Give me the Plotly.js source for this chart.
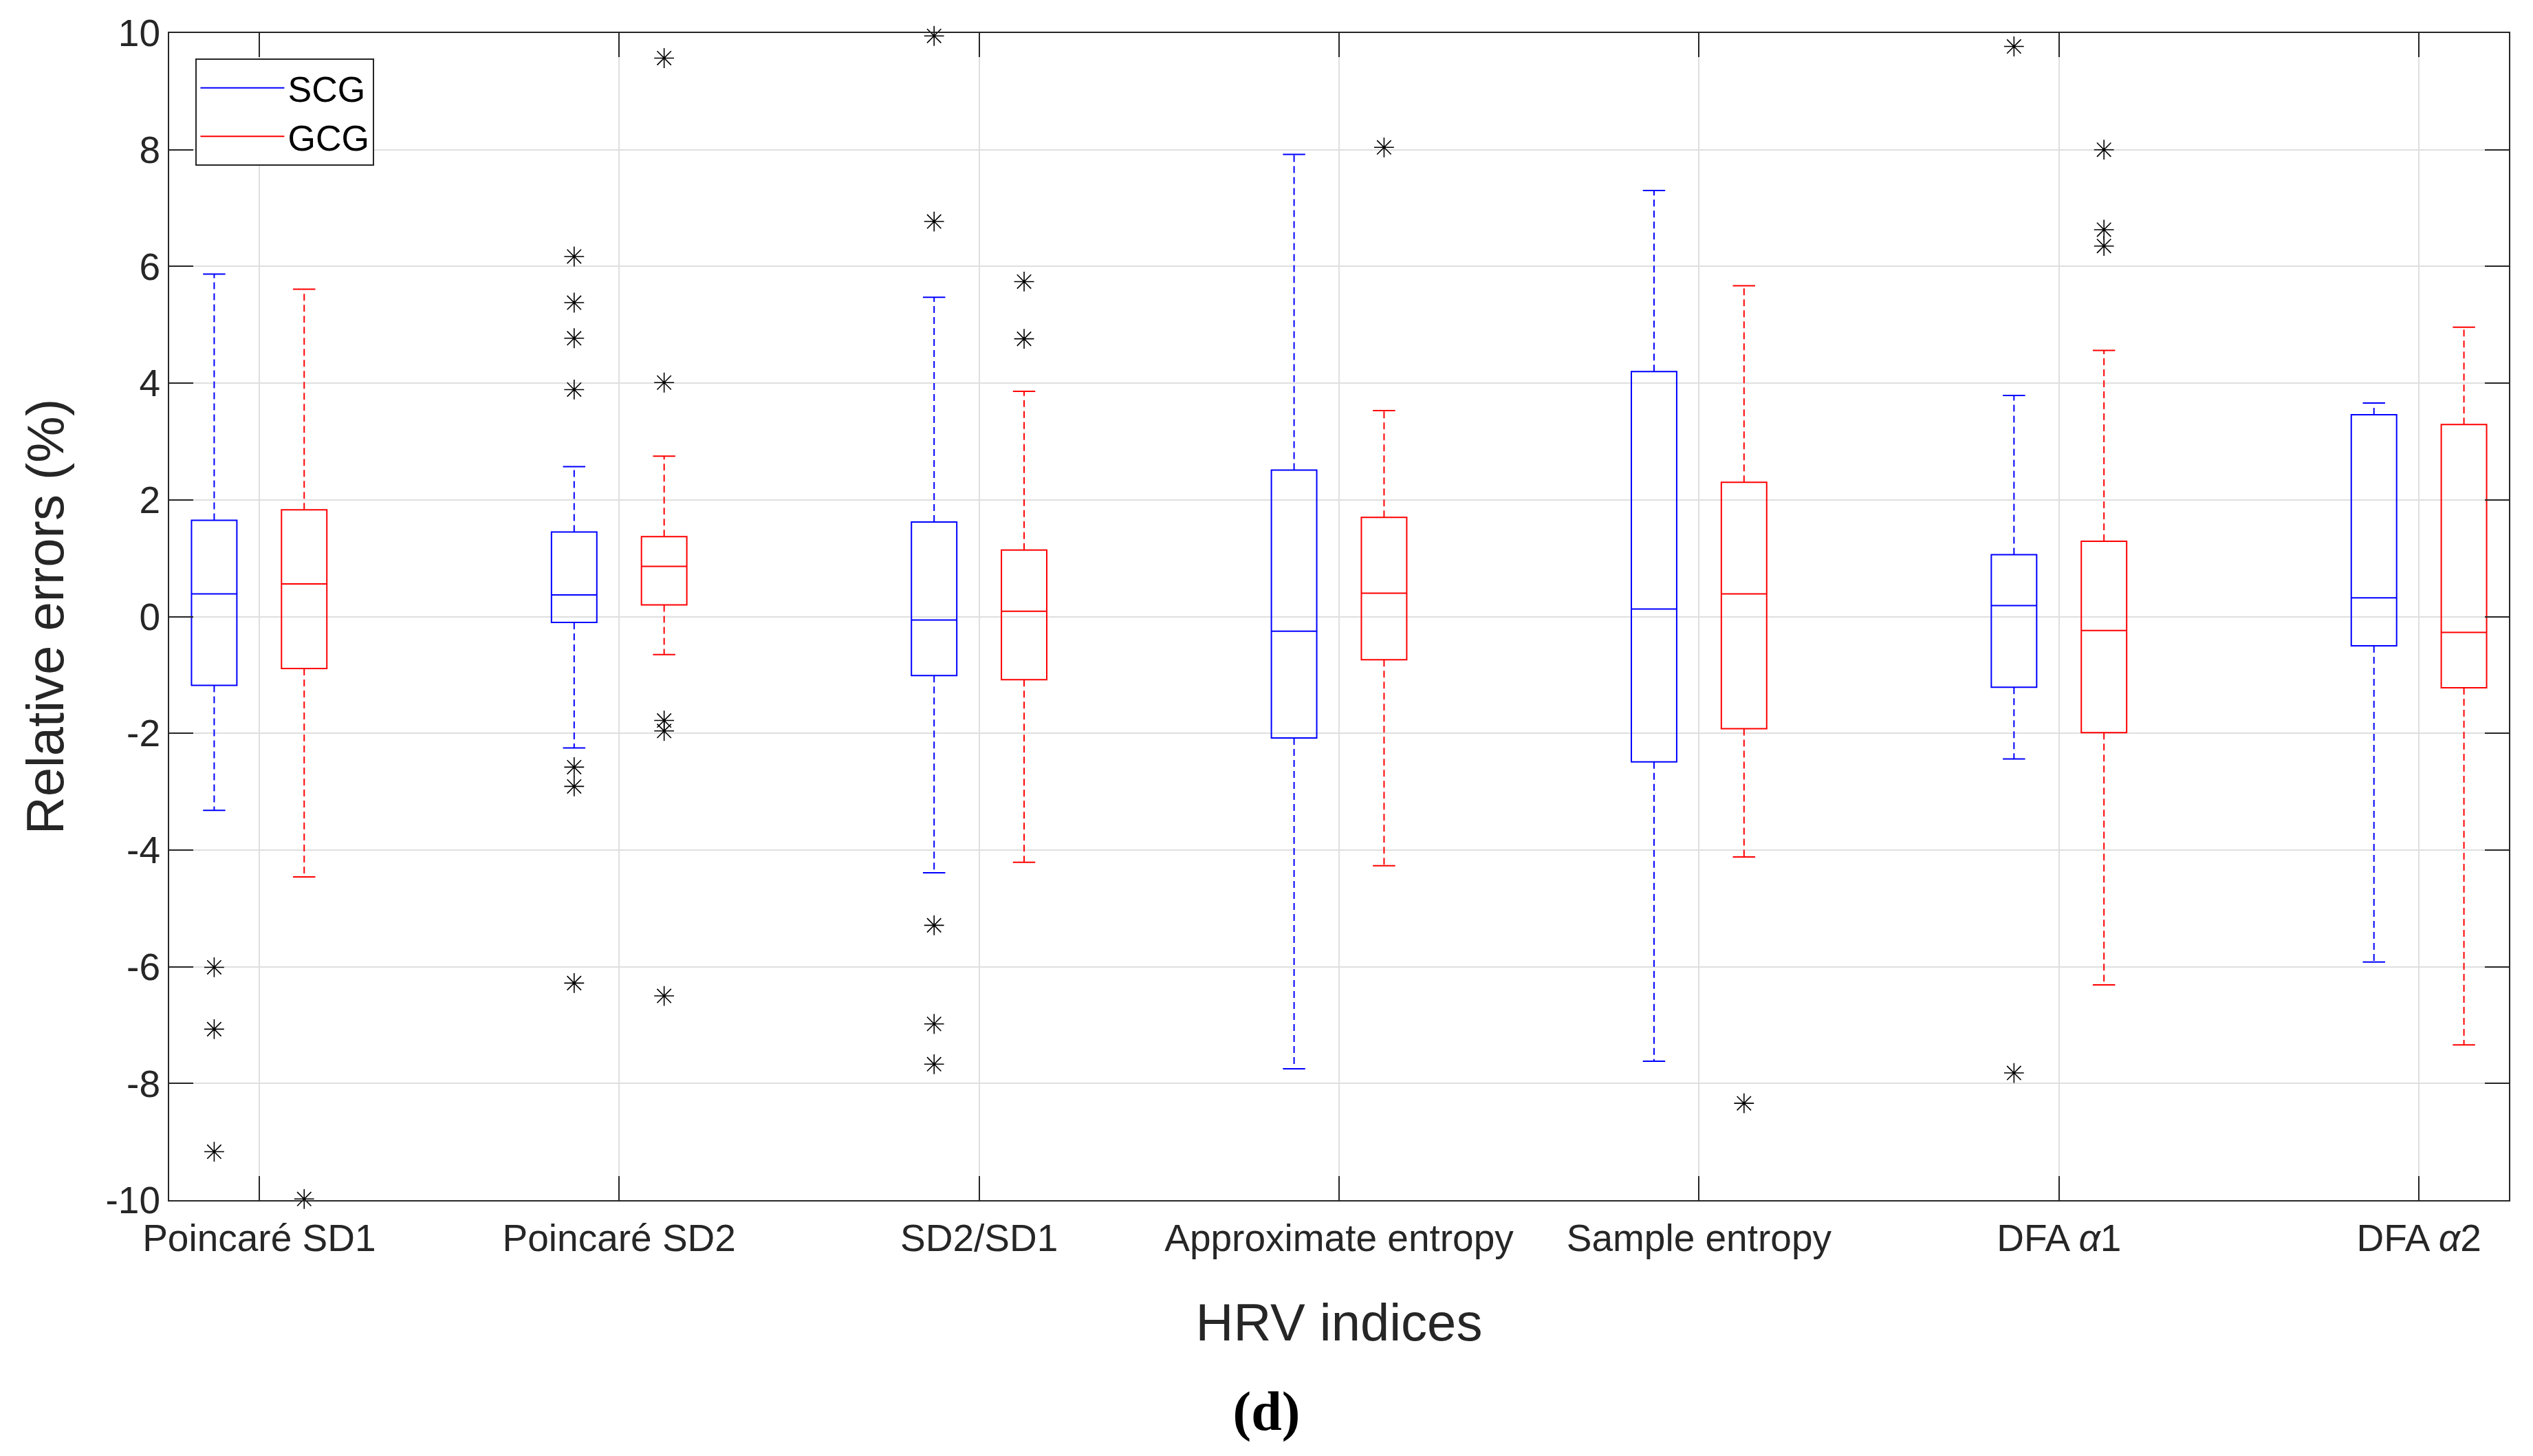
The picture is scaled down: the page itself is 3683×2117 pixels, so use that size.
<!DOCTYPE html>
<html>
<head>
<meta charset="utf-8">
<script src="https://cdn.plot.ly/plotly-3.0.1.min.js"></script>
<style>
  html, body { margin: 0; padding: 0; background: #ffffff; }
  #chart { width: 3683px; height: 2117px; }
</style>
</head>
<body>
<div id="chart"></div>
<script>
// ---------- data ----------
const categories = ['Poincaré SD1', 'Poincaré SD2', 'SD2/SD1', 'Approximate entropy',
                    'Sample entropy', 'DFA <i>α</i>1', 'DFA <i>α</i>2'];
const seriesNames = ['SCG', 'GCG'];

const scgUpper  = [5.87, 2.57, 5.47, 7.92, 7.30, 3.79, 3.66];
const scgQ3     = [1.65, 1.45, 1.62, 2.51, 4.20, 1.06, 3.46];
const scgMedian = [0.39, 0.37, -0.06, -0.25, 0.13, 0.19, 0.32];
const scgQ1     = [-1.18, -0.10, -1.01, -2.08, -2.49, -1.21, -0.50];
const scgLower  = [-3.32, -2.25, -4.39, -7.75, -7.62, -2.44, -5.92];
const scgOutliers = [[-6.01, -7.07, -9.17], [6.17, 5.38, 4.77, 3.89, -2.58, -2.91, -6.28],
                     [9.95, 6.77, -5.29, -6.98, -7.67], [], [], [9.77, -7.82], []];

const gcgUpper  = [5.61, 2.75, 3.86, 3.53, 5.67, 4.56, 4.96];
const gcgQ3     = [1.83, 1.37, 1.14, 1.70, 2.30, 1.29, 3.29];
const gcgMedian = [0.56, 0.86, 0.09, 0.40, 0.39, -0.24, -0.27];
const gcgQ1     = [-0.89, 0.20, -1.08, -0.74, -1.92, -1.99, -1.22];
const gcgLower  = [-4.46, -0.65, -4.21, -4.27, -4.12, -6.31, -7.34];
const gcgOutliers = [[-9.98], [9.57, 4.01, -1.78, -1.96, -6.50], [5.74, 4.76], [8.04],
                     [-8.34], [8.00, 6.63, 6.35], []];

const yTickVals = [-10, -8, -6, -4, -2, 0, 2, 4, 6, 8, 10];
const yTickText = ['-10', '-8', '-6', '-4', '-2', '0', '2', '4', '6', '8', '10'];

// ---------- styling ----------
const seriesColors = ['#0000ff', '#ff0000'];
const groupOffset = [-0.125, 0.125];
const boxWidth = 0.126;
const capHalf = 0.031;
const axisColor = '#262626';
const fontFamily = '"Liberation Sans", Arial, Helvetica, sans-serif';

const series = [
  { upper: scgUpper, q3: scgQ3, median: scgMedian, q1: scgQ1, lower: scgLower, out: scgOutliers },
  { upper: gcgUpper, q3: gcgQ3, median: gcgMedian, q1: gcgQ1, lower: gcgLower, out: gcgOutliers }
];

const idx = categories.map((_, i) => i);
const traces = [];
const legendTraces = [];

series.forEach((s, k) => {
  const pos = idx.map(i => i + groupOffset[k]);
  const color = seriesColors[k];

  // box (q1 - median - q3), whiskers drawn separately as dashed lines
  traces.push({
    type: 'box',
    x: pos,
    q1: s.q1, median: s.median, q3: s.q3,
    lowerfence: s.q1, upperfence: s.q3,
    width: boxWidth,
    whiskerwidth: 0,
    boxpoints: false,
    line: { color: color, width: 2 },
    fillcolor: 'rgba(0,0,0,0)',
    hoverinfo: 'skip',
    showlegend: false
  });

  // dashed whiskers
  const wx = [], wy = [];
  pos.forEach((p, i) => {
    wx.push(p, p, null, p, p, null);
    wy.push(s.q3[i], s.upper[i], null, s.q1[i], s.lower[i], null);
  });
  traces.push({
    type: 'scatter', mode: 'lines', x: wx, y: wy,
    line: { color: color, width: 2, dash: '10px,6px' },
    hoverinfo: 'skip', showlegend: false
  });

  // whisker caps (solid) - also used as legend entry
  const cx = [], cy = [];
  pos.forEach((p, i) => {
    cx.push(p - capHalf, p + capHalf, null, p - capHalf, p + capHalf, null);
    cy.push(s.upper[i], s.upper[i], null, s.lower[i], s.lower[i], null);
  });
  legendTraces.push({
    type: 'scatter', mode: 'lines', x: cx, y: cy,
    name: seriesNames[k],
    line: { color: color, width: 2 },
    hoverinfo: 'skip', showlegend: true
  });

  // outliers
  const ox = [], oy = [];
  s.out.forEach((vals, i) => {
    vals.forEach(v => { ox.push(pos[i]); oy.push(v); });
  });
  traces.push({
    type: 'scatter', mode: 'markers', x: ox, y: oy,
    marker: { symbol: 'asterisk-open', size: 24, color: '#000000', line: { color: '#000000', width: 1.6 } },
    cliponaxis: false,
    hoverinfo: 'skip', showlegend: false
  });
});

const data = traces.concat(legendTraces);

const layout = {
  width: 3683, height: 2117,
  paper_bgcolor: '#ffffff', plot_bgcolor: '#ffffff',
  margin: { l: 246, r: 35, t: 48, b: 372, pad: 0 },
  font: { family: fontFamily, color: axisColor },
  showlegend: true,
  title: {
    text: '<b>(d)</b>',
    font: { family: '"Liberation Serif", "Times New Roman", serif', size: 80, color: '#000000' },
    x: 0.5, xref: 'container', xanchor: 'center',
    y: 0.031, yref: 'container', yanchor: 'middle'
  },
  xaxis: {
    range: [-0.25, 6.25],
    tickmode: 'array', tickvals: idx, ticktext: categories,
    ticks: 'inside', ticklen: 35, tickwidth: 2, tickcolor: axisColor,
    ticklabelstandoff: 6,
    showline: true, linecolor: axisColor, linewidth: 2, mirror: 'ticks',
    showgrid: true, gridcolor: '#dfdfdf', gridwidth: 2,
    zeroline: false, automargin: false, fixedrange: true,
    tickfont: { size: 55, color: axisColor, family: fontFamily },
    title: { text: 'HRV indices', font: { size: 76, color: axisColor, family: fontFamily }, standoff: 66 }
  },
  yaxis: {
    range: [-10, 10],
    tickmode: 'array', tickvals: yTickVals, ticktext: yTickText,
    ticks: 'inside', ticklen: 35, tickwidth: 2, tickcolor: axisColor,
    showline: true, linecolor: axisColor, linewidth: 2, mirror: 'ticks',
    showgrid: true, gridcolor: '#dfdfdf', gridwidth: 2,
    zeroline: false, automargin: false, fixedrange: true,
    tickfont: { size: 55, color: axisColor, family: fontFamily },
    title: { text: 'Relative errors (%)', font: { size: 76, color: axisColor, family: fontFamily }, standoff: 36 }
  },
  legend: {
    x: 0.0113, y: 0.978, xanchor: 'left', yanchor: 'top',
    bgcolor: '#ffffff', bordercolor: axisColor, borderwidth: 2,
    font: { size: 52, color: '#000000', family: fontFamily },
    itemwidth: 122, tracegroupgap: 0
  }
};

Plotly.newPlot('chart', data, layout, { staticPlot: true, displayModeBar: false });
</script>
</body>
</html>
